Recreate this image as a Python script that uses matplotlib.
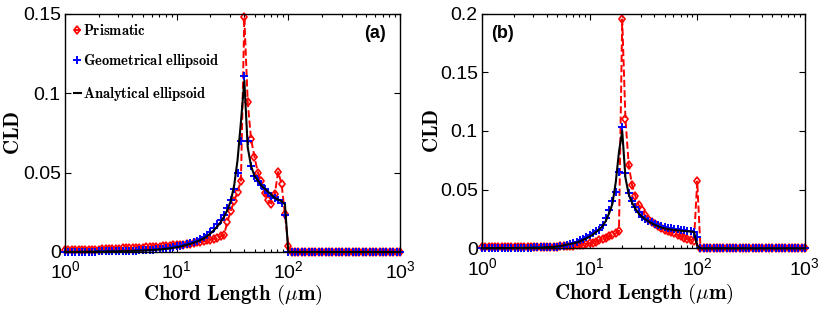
import matplotlib
matplotlib.use("Agg")
import matplotlib.pyplot as plt
from matplotlib.ticker import LogLocator, FixedLocator, NullFormatter

plt.rcParams["font.family"] = ["Liberation Sans", "DejaVu Sans"]

# chord length bins (um), log spaced
chord = [
    1.000, 1.072, 1.150, 1.233, 1.322, 1.417, 1.520, 1.630, 1.748, 1.874,
    2.009, 2.154, 2.310, 2.477, 2.656, 2.848, 3.054, 3.275, 3.511, 3.765,
    4.037, 4.329, 4.642, 4.977, 5.337, 5.722, 6.136, 6.579, 7.055, 7.565,
    8.111, 8.697, 9.326, 10.00, 10.72, 11.50, 12.33, 13.22, 14.17, 15.20,
    16.30, 17.48, 18.74, 20.09, 21.54, 23.10, 24.77, 26.56, 28.48, 30.54,
    32.75, 35.11, 37.65, 40.37, 43.29, 46.42, 49.77, 53.37, 57.22, 61.36,
    65.79, 70.55, 75.65, 81.11, 86.97, 93.26, 100.0, 107.2, 115.0, 123.3,
    132.2, 141.7, 152.0, 163.0, 174.8, 187.4, 200.9, 215.4, 231.0, 247.7,
    265.6, 284.8, 305.4, 327.5, 351.1, 376.5, 403.7, 432.9, 464.2, 497.7,
    533.7, 572.2, 613.6, 657.9, 705.5, 756.5, 811.1, 869.7, 932.6, 1000.0,
]

ZEROS33 = [0, 0, 0, 0, 0, 0, 0, 0, 0, 0, 0, 0, 0, 0, 0, 0, 0,
           0, 0, 0, 0, 0, 0, 0, 0, 0, 0, 0, 0, 0, 0, 0, 0]

# ---- panel (a)
prism_a = [
    .0010, .0010, .0011, .0011, .0012, .0012, .0013, .0013, .0014, .0015,
    .0015, .0016, .0017, .0018, .0019, .0020, .0021, .0022, .0023, .0024,
    .0025, .0026, .0027, .0028, .0029, .0030, .0031, .0032, .0034, .0035,
    .0037, .0039, .0041, .0043, .0045, .0047, .0050, .0053, .0056, .0060,
    .0064, .0068, .0073, .0078, .0084, .0090, .0098, .0108, .0190, .0260,
    .0320, .0380, .0450, .1480, .0945, .0710, .0600, .0500, .0445, .0370,
    .0325, .0305, .0365, .0505, .0430, .0240, .0040,
] + ZEROS33
geo_a = [
    .0002, .0002, .0002, .0002, .0002, .0003, .0003, .0003, .0003, .0003,
    .0004, .0004, .0004, .0005, .0005, .0005, .0006, .0006, .0007, .0007,
    .0008, .0009, .0010, .0011, .0012, .0013, .0015, .0017, .0019, .0021,
    .0024, .0027, .0031, .0035, .0040, .0045, .0051, .0058, .0065, .0072,
    .0080, .0092, .0108, .0128, .0150, .0175, .0200, .0235, .0280, .0330,
    .0400, .0500, .0700, .1110, .0700, .0540, .0480, .0450, .0420, .0400,
    .0370, .0350, .0340, .0330, .0310, .0230, 0,
] + ZEROS33
ana_a = [
    .0001, .0001, .0001, .0001, .0001, .0002, .0002, .0002, .0002, .0002,
    .0003, .0003, .0003, .0004, .0004, .0004, .0005, .0005, .0006, .0006,
    .0007, .0008, .0008, .0009, .0010, .0011, .0012, .0014, .0016, .0018,
    .0020, .0023, .0026, .0030, .0034, .0039, .0045, .0051, .0058, .0066,
    .0075, .0086, .0100, .0117, .0137, .0160, .0188, .0222, .0265, .0322,
    .0420, .0580, .0820, .1080, .0660, .0540, .0480, .0450, .0420, .0400,
    .0380, .0360, .0340, .0330, .0320, .0300, 0,
] + ZEROS33

# ---- panel (b)
prism_b = [
    .0010, .0010, .0010, .0010, .0010, .0010, .0010, .0010, .0010, .0010,
    .0011, .0011, .0011, .0012, .0012, .0012, .0012, .0013, .0013, .0013,
    .0014, .0014, .0015, .0015, .0016, .0016, .0017, .0019, .0022, .0025,
    .0028, .0032, .0037, .0042, .0048, .0058, .0070, .0080, .0092, .0103,
    .0115, .0128, .0145, .1950, .1100, .0710, .0540, .0450, .0370, .0330,
    .0280, .0250, .0228, .0210, .0190, .0175, .0160, .0150, .0138, .0127,
    .0115, .0103, .0092, .0082, .0072, .0065, .0570,
] + ZEROS33
geo_b = [
    .0004, .0004, .0004, .0004, .0004, .0005, .0005, .0005, .0005, .0005,
    .0005, .0006, .0006, .0006, .0007, .0007, .0008, .0008, .0009, .0010,
    .0011, .0012, .0013, .0015, .0017, .0021, .0028, .0036, .0045, .0056,
    .0068, .0080, .0094, .0110, .0128, .0144, .0160, .0198, .0255, .0326,
    .0400, .0480, .0650, .1035, .0640, .0470, .0400, .0350, .0310, .0270,
    .0250, .0235, .0225, .0210, .0200, .0190, .0183, .0177, .0172, .0167,
    .0163, .0159, .0155, .0151, .0147, .0142, .0100,
] + ZEROS33
ana_b = [
    .0002, .0002, .0002, .0002, .0002, .0002, .0003, .0003, .0003, .0003,
    .0003, .0004, .0004, .0004, .0005, .0005, .0006, .0006, .0007, .0008,
    .0010, .0011, .0013, .0016, .0020, .0025, .0031, .0037, .0043, .0050,
    .0060, .0072, .0085, .0100, .0118, .0140, .0162, .0190, .0235, .0300,
    .0380, .0560, .0820, .1000, .0600, .0460, .0390, .0340, .0300, .0270,
    .0250, .0230, .0215, .0200, .0188, .0178, .0170, .0164, .0160, .0156,
    .0153, .0150, .0148, .0146, .0143, .0140, .0020,
] + ZEROS33

yticks_a = [0, 0.05, 0.1, 0.15]
ytick_labels_a = ["0", "0.05", "0.1", "0.15"]
yticks_b = [0, 0.05, 0.1, 0.15, 0.2]
ytick_labels_b = ["0", "0.05", "0.1", "0.15", "0.2"]

legend_names = [r"$\mathbf{Prismatic}$", r"$\mathbf{Geometrical\ ellipsoid}$",
                r"$\mathbf{Analytical\ ellipsoid}$"]


def draw_panel(ax, prism, geo, ana, yticks, ylabels, tag, tag_xy, xlab_y):
    ax.plot(chord, prism, color="red", ls="--", lw=1.4, marker="d", ms=4.5,
            mfc="none", mew=1.2, clip_on=False, label=legend_names[0])
    ax.plot(chord, geo, color="blue", ls="none", marker="+", ms=6,
            mew=1.4, clip_on=False, label=legend_names[1])
    ax.plot(chord, ana, color="black", lw=1.5, clip_on=False, label=legend_names[2])

    ax.set_xscale("log")
    ax.set_xlim(1, 1000)
    ax.set_ylim(0, yticks[-1])
    ax.yaxis.set_major_locator(FixedLocator(yticks))
    ax.set_yticklabels(ylabels)
    ax.xaxis.set_major_locator(LogLocator(base=10, numticks=10))
    ax.xaxis.set_minor_locator(LogLocator(base=10, subs=range(2, 10), numticks=10))
    ax.xaxis.set_minor_formatter(NullFormatter())
    ax.tick_params(which="both", direction="in", top=True, right=True,
                   labelsize=14, width=0.8, colors="black")
    ax.tick_params(which="major", length=4)
    ax.tick_params(axis="x", which="major", pad=6)
    ax.tick_params(axis="y", which="major", pad=3)
    ax.tick_params(which="minor", length=2)
    for s in ax.spines.values():
        s.set_linewidth(1.0)

    ax.set_xlabel(r"$\mathbf{Chord\ Length\ (}\mu\mathbf{m)}$", fontsize=15,
                  math_fontfamily="cm")
    ax.xaxis.set_label_coords(0.5, xlab_y)
    ax.set_ylabel(r"$\mathbf{CLD}$", fontsize=15, math_fontfamily="cm")
    ax.yaxis.set_label_coords(-0.125, 0.5)
    ax.text(tag_xy[0], tag_xy[1], tag, transform=ax.transAxes, fontsize=13,
            fontweight="bold", ha="center", va="center")


fig = plt.figure(figsize=(8.3, 3.14), dpi=100)
ax_a = fig.add_axes([0.0783, 0.1975, 0.4036, 0.758])
ax_b = fig.add_axes([0.5807, 0.209, 0.389, 0.748])

draw_panel(ax_a, prism_a, geo_a, ana_a, yticks_a, ytick_labels_a, "(a)", (0.925, 0.92), -0.13)
draw_panel(ax_b, prism_b, geo_b, ana_b, yticks_b, ytick_labels_b, "(b)", (0.065, 0.915), -0.143)

leg = ax_a.legend(loc="upper left", bbox_to_anchor=(0.0, 1.0), frameon=False,
                  handlelength=0.5, handletextpad=0.15, labelspacing=1.0,
                  borderaxespad=0.2, borderpad=0.4, fontsize=10.5)
for t in leg.get_texts():
    t.set_math_fontfamily("cm")

fig.savefig("out.png", dpi=100)
